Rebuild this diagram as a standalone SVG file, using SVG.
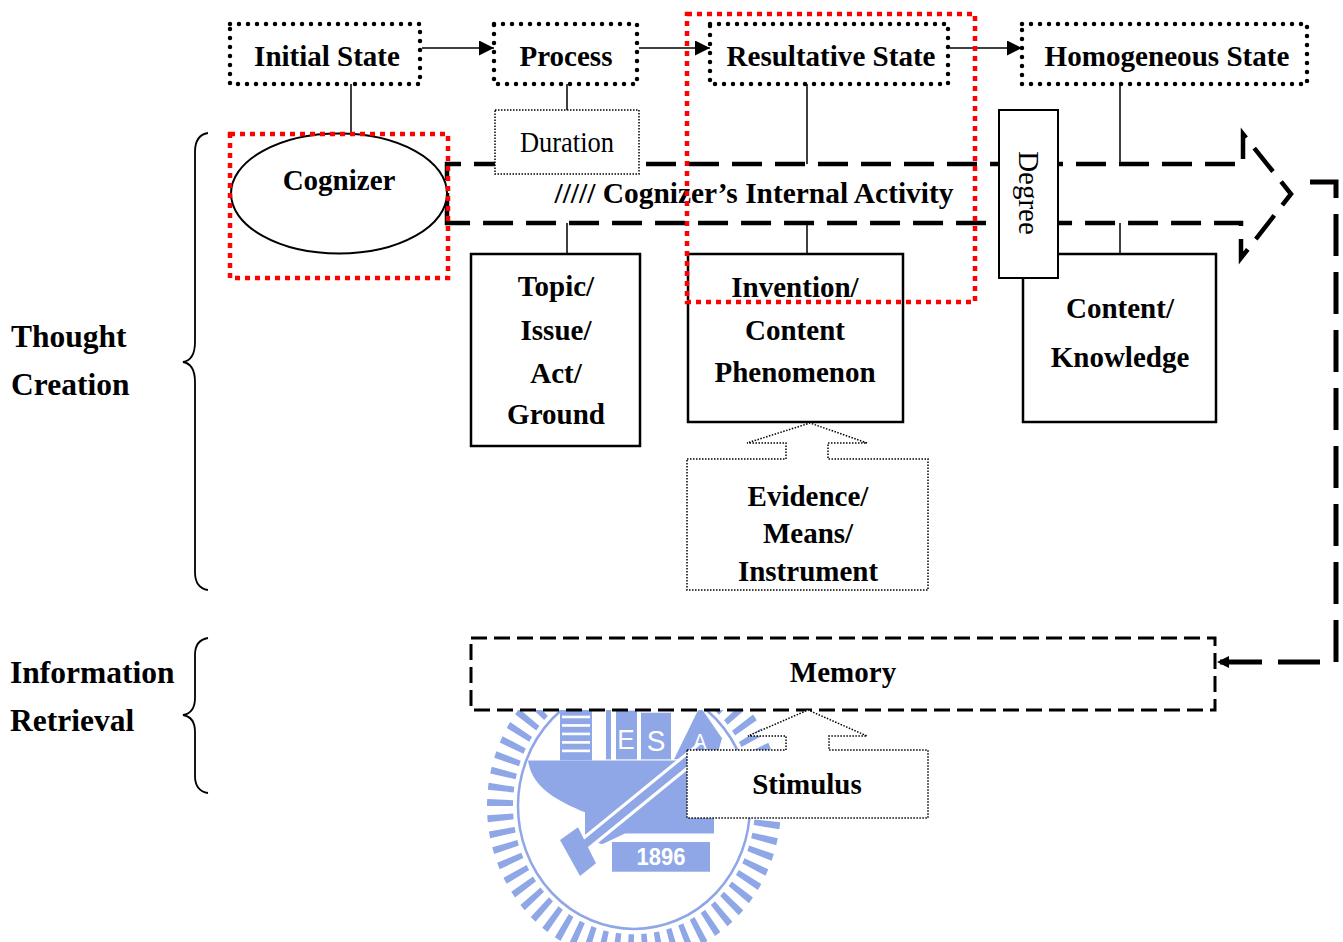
<svg xmlns="http://www.w3.org/2000/svg" width="1343" height="942" viewBox="0 0 1343 942">
<style>
.t{font-family:"Liberation Serif","Times New Roman",serif;font-weight:bold;font-size:29px;text-anchor:middle;fill:#000}
.r{font-weight:normal}
.side{font-size:31.5px;text-anchor:start}
.state{fill:#fff;stroke:#000;stroke-width:4.5;stroke-dasharray:0 9;stroke-linecap:round}
.box{fill:#fff;stroke:#000;stroke-width:2.5}
.fine{fill:#fff;stroke:#000;stroke-width:1.5;stroke-dasharray:1.5 1.5}
.hl{fill:none;stroke:#ff0000;stroke-width:4.5;stroke-dasharray:5 5}
.link{stroke:#000;stroke-width:1.5;fill:none}
.wm{fill:#8fa7e6}
</style>
<defs>
<marker id="ah" viewBox="0 0 10 10" refX="10" refY="5" markerWidth="15" markerHeight="15" markerUnits="userSpaceOnUse" orient="auto">
<path d="M0,0 L10,5 L0,10 z" fill="#000"/>
</marker>
<marker id="ah2" viewBox="0 0 10 10" refX="10" refY="5" markerWidth="12" markerHeight="18" markerUnits="userSpaceOnUse" orient="auto">
<path d="M0,0 L10,5 L0,10 z" fill="#000"/>
</marker>
</defs>
<rect width="1343" height="942" fill="#fff"/>

<g id="watermark" transform="translate(634,806) scale(1,1.06) translate(-634,-806)">
<circle cx="634" cy="806" r="134" fill="none" stroke="#8fa7e6" stroke-width="26" stroke-dasharray="6 8.03"/>
<circle cx="634" cy="806" r="116" fill="none" stroke="#8fa7e6" stroke-width="2.5"/>
<path class="wm" d="M528,763 H702 L714,792 L714,832 H625 L602,842 L585,836 L585,812 C560,802 532,790 528,763 Z"/>
<rect class="wm" x="560" y="713" width="32" height="50"/>
<g stroke="#fff" stroke-width="2.5">
<line x1="562" y1="722" x2="590" y2="722"/><line x1="562" y1="730" x2="590" y2="730"/>
<line x1="562" y1="738" x2="590" y2="738"/><line x1="562" y1="746" x2="590" y2="746"/>
<line x1="562" y1="754" x2="590" y2="754"/>
</g>
<rect class="wm" x="606" y="714" width="5" height="48"/>
<rect class="wm" x="616" y="716" width="21" height="46"/>
<rect class="wm" x="641" y="718" width="30" height="44"/>
<polygon class="wm" points="674,762 700,712 722,742 716,762"/>
<text x="626" y="752" font-family="Liberation Sans,Arial,sans-serif" font-size="26" text-anchor="middle" fill="#fff">E</text>
<text x="656" y="754" font-family="Liberation Sans,Arial,sans-serif" font-size="28" text-anchor="middle" fill="#fff">S</text>
<text x="700" y="752" font-family="Liberation Sans,Arial,sans-serif" font-size="20" text-anchor="middle" fill="#fff">A</text>
<line x1="572" y1="852" x2="702" y2="752" stroke="#fff" stroke-width="14"/>
<line x1="572" y1="852" x2="702" y2="752" stroke="#8fa7e6" stroke-width="8"/>
<path class="wm" d="M560,838 L578,826 L596,860 L580,872 Z"/>
<rect class="wm" x="612" y="840" width="98" height="28"/>
<text x="661" y="862" font-family="Liberation Sans,Arial,sans-serif" font-weight="bold" font-size="22" text-anchor="middle" fill="#fff">1896</text>
</g>

<g id="braces" fill="none" stroke="#000" stroke-width="1.8">
<path d="M208,133 Q195,135 195,152 V342 Q195,360 183,362 Q195,364 195,382 V572 Q195,588 208,590"/>
<path d="M208,638 Q195,640 195,655 V698 Q195,713 183,715 Q195,717 195,732 V776 Q195,791 208,793"/>
</g>
<g id="labels">
<text class="t side" x="11" y="347">Thought</text>
<text class="t side" x="11" y="395">Creation</text>
<text class="t side" x="10" y="683">Information</text>
<text class="t side" x="10" y="731">Retrieval</text>
</g>

<g id="activity-arrow">
<path d="M447,223 V164 H1243 V134 L1291,194 L1241,258 V223 Z" fill="#fff" stroke="#000" stroke-width="4.5" stroke-dasharray="30 13"/>
<text class="t" x="754" y="203" textLength="399" lengthAdjust="spacingAndGlyphs">///// Cognizer’s Internal Activity</text>
</g>

<g id="connectors">
<path class="link" stroke-width="2" d="M422,48 H494" marker-end="url(#ah)"/>
<path class="link" stroke-width="2" d="M639,48 H710" marker-end="url(#ah)"/>
<path class="link" stroke-width="2" d="M950,48 H1022" marker-end="url(#ah)"/>
<path class="link" d="M351,84 V134"/>
<path class="link" d="M567,84 V110"/>
<path class="link" d="M807,84 V164"/>
<path class="link" d="M1120,84 V164"/>
<path class="link" d="M567,223 V254"/>
<path class="link" d="M807,223 V254"/>
<path class="link" d="M1120,223 V254"/>
<path d="M1310,182 H1336 V662 H1217" fill="none" stroke="#000" stroke-width="5" stroke-dasharray="42 16" marker-end="url(#ah2)"/>
</g>

<g id="initial-state"><rect class="state" x="230" y="24" width="190" height="60"/><text class="t" x="327" y="66">Initial State</text></g>
<g id="process"><rect class="state" x="494" y="24" width="143" height="60"/><text class="t" x="566" y="66">Process</text></g>
<g id="resultative-state"><rect class="state" x="710" y="24" width="238" height="60"/><text class="t" x="831" y="66" textLength="209" lengthAdjust="spacingAndGlyphs">Resultative State</text></g>
<g id="homogeneous-state"><rect class="state" x="1022" y="24" width="285" height="60"/><text class="t" x="1167" y="66" textLength="245" lengthAdjust="spacingAndGlyphs">Homogeneous State</text></g>

<g id="duration"><rect class="fine" x="495" y="110" width="144" height="64"/><text class="t r" x="567" y="152" font-size="25" textLength="94" lengthAdjust="spacingAndGlyphs">Duration</text></g>

<g id="cognizer"><ellipse cx="339" cy="193.5" rx="108" ry="60" fill="#fff" stroke="#000" stroke-width="2"/><text class="t" x="339" y="190">Cognizer</text></g>

<g id="topic"><rect class="box" x="471" y="254" width="169" height="192"/>
<text class="t" x="556" y="296">Topic/</text><text class="t" x="556" y="340">Issue/</text><text class="t" x="556" y="383">Act/</text><text class="t" x="556" y="424">Ground</text></g>

<g id="invention"><rect class="box" x="688" y="254" width="215" height="168"/>
<text class="t" x="795" y="297">Invention/</text><text class="t" x="795" y="340">Content</text><text class="t" x="795" y="382">Phenomenon</text></g>

<g id="content-knowledge"><rect class="box" x="1023" y="254" width="193" height="168"/>
<text class="t" x="1120" y="318">Content/</text><text class="t" x="1120" y="367">Knowledge</text></g>

<g id="degree"><rect x="999" y="110" width="59" height="168" fill="#fff" stroke="#000" stroke-width="2"/>
<text class="t r" font-size="26" transform="translate(1028,193) rotate(90)" x="0" y="9">Degree</text></g>

<g id="evidence"><path class="fine" d="M687,459 H786 V443 H747 L810,423 L867,443 H828 V459 H928 V590 H687 Z"/>
<text class="t" x="808" y="506">Evidence/</text><text class="t" x="808" y="543">Means/</text><text class="t" x="808" y="581">Instrument</text></g>

<g id="memory"><rect x="471" y="638" width="744" height="72" fill="#fff" stroke="#000" stroke-width="3" stroke-dasharray="16 7"/>
<text class="t" x="843" y="682">Memory</text></g>

<g id="stimulus"><path class="fine" d="M687,750 H786 V736 H748 L808,710 L867,736 H829 V750 H928 V818 H687 Z"/>
<text class="t" x="807" y="794">Stimulus</text></g>

<g id="highlights">
<rect class="hl" x="230" y="134" width="218" height="144"/>
<rect class="hl" x="687" y="14" width="288" height="288"/>
</g>
</svg>
